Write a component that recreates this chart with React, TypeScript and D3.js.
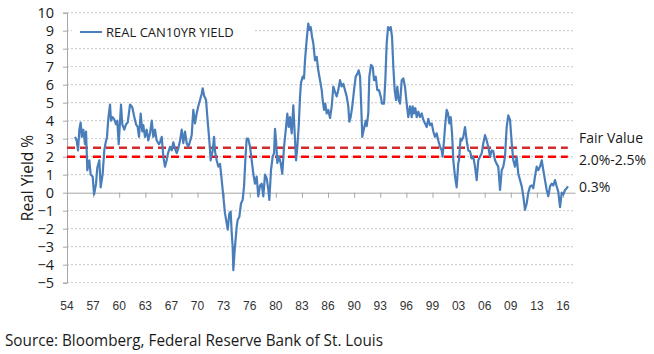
import React, { useRef, useEffect } from 'react';
import * as d3 from 'd3';

// decimal years and real 10y yield (%)
const years = [
  1955.00, 1955.21, 1955.38, 1955.54, 1955.71, 1955.84, 1956.04, 1956.25, 1956.38, 1956.54,
  1956.79, 1956.96, 1957.21, 1957.38, 1957.63, 1957.79, 1958.04, 1958.21, 1958.46, 1958.66,
  1958.84, 1959.00, 1959.16, 1959.38, 1959.50, 1959.66, 1959.88, 1960.13, 1960.29, 1960.46,
  1960.63, 1960.75, 1960.91, 1961.16, 1961.38, 1961.59, 1961.88, 1962.16, 1962.41, 1962.63,
  1962.84, 1963.00, 1963.21, 1963.41, 1963.54, 1963.75, 1963.96, 1964.16, 1964.38, 1964.59,
  1964.79, 1965.00, 1965.21, 1965.50, 1965.63, 1965.84, 1966.04, 1966.25, 1966.46, 1966.63,
  1966.88, 1967.09, 1967.29, 1967.50, 1967.71, 1967.91, 1968.13, 1968.34, 1968.54, 1968.75,
  1968.96, 1969.16, 1969.38, 1969.59, 1969.79, 1970.00, 1970.21, 1970.41, 1970.63, 1970.84,
  1970.96, 1971.13, 1971.38, 1971.59, 1971.79, 1971.96, 1972.21, 1972.38, 1972.50, 1972.71,
  1972.91, 1973.13, 1973.34, 1973.54, 1973.75, 1973.96, 1974.09, 1974.29, 1974.46, 1974.59,
  1974.71, 1974.79, 1974.96, 1975.21, 1975.34, 1975.54, 1975.75, 1975.96, 1976.13, 1976.29,
  1976.46, 1976.66, 1976.88, 1977.09, 1977.29, 1977.50, 1977.71, 1977.91, 1978.13, 1978.34,
  1978.54, 1978.75, 1978.96, 1979.16, 1979.29, 1979.50, 1979.71, 1979.88, 1980.00, 1980.13,
  1980.29, 1980.50, 1980.71, 1980.91, 1981.13, 1981.38, 1981.54, 1981.71, 1981.88, 1982.09,
  1982.29, 1982.46, 1982.63, 1982.79, 1982.96, 1983.13, 1983.25, 1983.46, 1983.63, 1983.75,
  1983.96, 1984.16, 1984.29, 1984.46, 1984.63, 1984.79, 1985.00, 1985.21, 1985.41, 1985.63,
  1985.84, 1985.96, 1986.13, 1986.29, 1986.46, 1986.66, 1986.88, 1987.09, 1987.29, 1987.50,
  1987.71, 1987.91, 1988.13, 1988.34, 1988.54, 1988.75, 1988.96, 1989.16, 1989.29, 1989.46,
  1989.66, 1989.88, 1990.09, 1990.29, 1990.46, 1990.63, 1990.75, 1990.91, 1991.09, 1991.34,
  1991.46, 1991.66, 1991.79, 1992.00, 1992.21, 1992.38, 1992.59, 1992.79, 1993.00, 1993.21,
  1993.38, 1993.63, 1993.79, 1993.96, 1994.13, 1994.29, 1994.46, 1994.63, 1994.79, 1994.96,
  1995.13, 1995.29, 1995.46, 1995.63, 1995.84, 1996.04, 1996.25, 1996.46, 1996.66, 1996.88,
  1997.09, 1997.21, 1997.38, 1997.54, 1997.71, 1997.91, 1998.13, 1998.34, 1998.54, 1998.75,
  1998.96, 1999.16, 1999.38, 1999.59, 1999.79, 2000.00, 2000.21, 2000.41, 2000.63, 2000.84,
  2000.94, 2001.13, 2001.25, 2001.46, 2001.63, 2001.79, 2001.96, 2002.13, 2002.29, 2002.50,
  2002.71, 2002.91, 2003.00, 2003.19, 2003.34, 2003.54, 2003.75, 2003.96, 2004.16, 2004.38,
  2004.59, 2004.79, 2005.00, 2005.21, 2005.41, 2005.63, 2005.84, 2006.04, 2006.25, 2006.46,
  2006.66, 2006.88, 2007.09, 2007.29, 2007.50, 2007.71, 2007.91, 2008.13, 2008.34, 2008.54,
  2008.75, 2008.96, 2009.16, 2009.38, 2009.59, 2009.79, 2010.00, 2010.21, 2010.41, 2010.63,
  2010.84, 2011.04, 2011.25, 2011.46, 2011.66, 2011.88, 2012.09, 2012.29, 2012.50, 2012.71,
  2012.91, 2013.13, 2013.34, 2013.54, 2013.75, 2013.96, 2014.16, 2014.38, 2014.59, 2014.79,
  2015.00, 2015.21, 2015.41, 2015.63, 2015.84, 2016.04, 2016.25, 2016.46, 2016.63,
];

const realYield = [
  3.1, 2.9, 2.35, 3.5, 3.9, 3.1, 3.5, 2.7, 3.4, 1.25,
  1.8, 1.0, 0.9, -0.1, 0.5, 1.4, 1.8, 0.3, 1.05, 2.35,
  2.8, 3.1, 4.1, 4.9, 4.0, 4.2, 4.1, 3.8, 4.0, 2.7,
  4.0, 4.9, 3.8, 3.5, 3.8, 3.9, 4.9, 4.75, 4.2, 3.8,
  3.65, 3.1, 4.4, 3.4, 3.75, 3.1, 3.5, 2.9, 3.3, 4.0,
  3.1, 3.5, 2.9, 2.7, 2.8, 3.1, 2.0, 1.45, 1.8, 2.2,
  2.55, 2.35, 2.8, 2.45, 2.2, 2.45, 2.9, 3.5, 2.75, 3.4,
  2.75, 2.55, 2.85, 3.2, 4.6, 3.85, 4.4, 4.8, 5.15, 5.5,
  5.8, 5.4, 5.15, 3.95, 2.9, 1.8, 2.35, 3.1, 2.3, 1.8,
  1.45, 1.6, 0.7, -0.2, -1.15, -1.7, -2.05, -1.15, -1.05, -2.25,
  -3.0, -4.3, -3.2, -1.9, -1.5, -1.35, -0.6, -0.4, 0.35, 1.8,
  3.0, 3.0, 2.55, 1.8, 1.05, 0.5, 0.9, -0.2, 0.4, 0.5,
  -0.2, 1.0, 0.8, 0.2, -0.4, 1.25, 2.0, 2.2, 3.55, 2.9,
  1.65, 2.0, 1.65, 1.05, 2.55, 3.65, 4.4, 3.65, 4.2, 3.3,
  4.85, 3.3, 1.8, 2.55, 3.65, 5.35, 6.1, 6.45, 6.35, 7.35,
  8.5, 9.4, 9.05, 9.2, 8.65, 8.3, 7.35, 7.55, 6.8, 6.25,
  5.7, 5.15, 4.6, 4.95, 4.4, 4.6, 4.15, 4.8, 5.9, 5.6,
  5.35, 5.7, 6.25, 5.9, 6.05, 5.7, 5.35, 4.8, 3.95, 4.2,
  4.8, 5.7, 6.45, 6.6, 6.8, 6.45, 5.15, 3.1, 3.5, 4.0,
  3.7, 4.4, 6.45, 7.1, 7.0, 6.25, 6.45, 5.7, 5.7, 5.35,
  4.95, 4.95, 6.25, 8.3, 9.2, 9.05, 9.2, 8.65, 7.0, 5.7,
  5.15, 5.9, 5.15, 4.95, 6.25, 6.35, 5.9, 4.95, 4.2, 4.8,
  4.2, 4.8, 4.4, 4.7, 4.2, 4.5, 4.2, 4.4, 4.05, 3.85,
  3.65, 4.1, 3.75, 3.85, 3.4, 3.1, 3.3, 2.9, 2.55, 2.35,
  2.0, 2.9, 3.65, 4.6, 4.4, 3.85, 4.2, 3.3, 1.8, 0.9,
  0.3, 1.65, 1.8, 3.0, 2.9, 3.1, 3.65, 2.9, 2.35, 2.3,
  1.9, 2.0, 1.45, 0.7, 1.8, 2.0, 2.2, 2.75, 3.2, 2.9,
  2.55, 2.0, 2.35, 2.3, 1.8, 1.6, 1.45, 0.15, 1.25, 1.45,
  2.0, 3.65, 4.3, 4.05, 2.75, 1.8, 1.45, 2.0, 1.05, 0.7,
  0.35, -0.2, -0.95, -0.6, 0.0, 0.35, 0.4, 0.25, 0.9, 1.45,
  1.25, 1.45, 1.8, 1.25, 0.7, 0.15, -0.2, 0.35, 0.5, 0.4,
  0.7, 0.35, 0.05, -0.8, 0.0, -0.1, 0.15, 0.25, 0.35,
];

const xTickLabels = ['54', '57', '60', '63', '67', '70', '73', '76', '80', '83',
  '86', '90', '93', '96', '99', '03', '06', '09', '13', '16'];
const yTicks = [-5, -4, -3, -2, -1, 0, 1, 2, 3, 4, 5, 6, 7, 8, 9, 10];
const fairValueBand = [2.5, 2.0];
const seriesName = 'REAL CAN10YR YIELD';
const annotations = ['Fair Value', '2.0%-2.5%', '0.3%'];
const sourceText = 'Source: Bloomberg, Federal Reserve Bank of St. Louis';

const width = 654;
const height = 354;

const App = () => {
  const svgRef = useRef<SVGSVGElement>(null);

  useEffect(() => {
    const svg = d3.select(svgRef.current);
    svg.selectAll('*').remove();

    const font = '"Open Sans", "DejaVu Sans", sans-serif';
    const left = 67;
    const right = 575;

    const x = d3.scaleLinear().domain([1954, 2017.5]).range([left, right]);
    const y = d3.scaleLinear().domain([-5, 10]).range([282.7, 12.7]);

    svg.append('rect').attr('width', width).attr('height', height).attr('fill', '#fff');

    // gridlines
    svg.append('g')
      .selectAll('line')
      .data(yTicks.filter(d => d !== 0))
      .enter()
      .append('line')
      .attr('x1', left)
      .attr('x2', right)
      .attr('y1', d => y(d))
      .attr('y2', d => y(d))
      .attr('stroke', '#c8c8c8')
      .attr('stroke-width', 1)
      .attr('stroke-dasharray', '2,2');

    // y axis
    const yAxis = svg.append('g')
      .attr('transform', `translate(${left},0)`)
      .call(d3.axisLeft(y).tickValues(yTicks).tickSize(4).tickPadding(9).tickFormat(d3.format('d')));
    yAxis.select('.domain').attr('stroke', '#a6a6a6');
    yAxis.selectAll('.tick line').attr('stroke', '#a6a6a6');
    yAxis.selectAll('.tick text')
      .attr('font-family', font)
      .attr('font-size', 14.5)
      .attr('fill', '#1a1a1a');

    // zero line with category ticks
    const tickYears = d3.range(xTickLabels.length).map(i => 1954 + (i * 62) / 19);
    const xAxis = svg.append('g')
      .attr('transform', `translate(0,${y(0)})`)
      .call(
        d3.axisBottom(x)
          .tickValues(tickYears)
          .tickSize(5)
          .tickSizeOuter(0)
          .tickFormat(() => '')
      );
    xAxis.select('.domain').attr('stroke', '#a6a6a6');
    xAxis.selectAll('.tick line').attr('stroke', '#a6a6a6');

    // x labels at the bottom
    svg.append('g')
      .selectAll('text')
      .data(tickYears)
      .enter()
      .append('text')
      .attr('x', d => x(d))
      .attr('y', 310)
      .attr('text-anchor', 'middle')
      .attr('font-family', '"Liberation Sans", sans-serif')
      .attr('font-size', 12)
      .attr('fill', '#333')
      .text((d, i) => xTickLabels[i]);

    // fair value band
    svg.append('g')
      .selectAll('line')
      .data(fairValueBand)
      .enter()
      .append('line')
      .attr('x1', left)
      .attr('x2', x(2016.6))
      .attr('y1', d => y(d))
      .attr('y2', d => y(d))
      .attr('stroke', (d, i) => (i === 0 ? '#d42a2a' : '#ff0000'))
      .attr('stroke-width', 2.5)
      .attr('stroke-dasharray', '8,5');

    // series line
    const data = years.map((yr, i) => ({ yr, v: realYield[i] }));
    const line = d3.line<{ yr: number; v: number }>()
      .x(d => x(d.yr))
      .y(d => y(d.v));

    svg.append('path')
      .datum(data)
      .attr('d', line)
      .attr('fill', 'none')
      .attr('stroke', '#4a7ebb')
      .attr('stroke-width', 2.2)
      .attr('stroke-linejoin', 'round');

    // legend
    const legend = svg.append('g');
    legend.append('rect')
      .attr('x', 72)
      .attr('y', 22)
      .attr('width', 182)
      .attr('height', 20)
      .attr('fill', '#fff');
    legend.append('line')
      .attr('x1', 80)
      .attr('x2', 102)
      .attr('y1', 32)
      .attr('y2', 32)
      .attr('stroke', '#4a7ebb')
      .attr('stroke-width', 2);
    legend.append('text')
      .attr('x', 106)
      .attr('y', 37)
      .attr('font-family', font)
      .attr('font-size', 13)
      .attr('fill', '#1a1a1a')
      .text(seriesName);

    // right-side annotations
    const annY = [y(2.5) - 5, y(2) + 8, y(0.3) + 5];
    svg.append('g')
      .selectAll('text')
      .data(annotations)
      .enter()
      .append('text')
      .attr('x', 579)
      .attr('y', (d, i) => annY[i])
      .attr('font-family', font)
      .attr('font-size', 14)
      .attr('fill', '#1a1a1a')
      .text(d => d);

    // y axis title
    svg.append('text')
      .attr('transform', 'rotate(-90)')
      .attr('x', -178)
      .attr('y', 33)
      .attr('text-anchor', 'middle')
      .attr('font-family', font)
      .attr('font-size', 15.5)
      .attr('fill', '#1a1a1a')
      .text('Real Yield %');

    // source
    svg.append('text')
      .attr('x', 5)
      .attr('y', 346)
      .attr('font-family', font)
      .attr('font-size', 17)
      .attr('textLength', 378)
      .attr('lengthAdjust', 'spacingAndGlyphs')
      .attr('fill', '#1a1a1a')
      .text(sourceText);
  }, []);

  return (
    <svg
      ref={svgRef}
      width={width}
      height={height}
      style={{ position: 'absolute', left: 0, top: 0, display: 'block' }}
    />
  );
};

export default App;
